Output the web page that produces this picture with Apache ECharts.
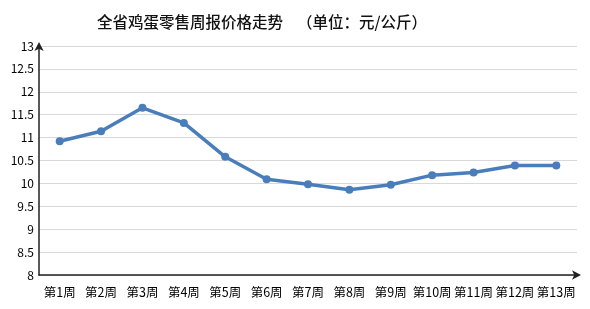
<!DOCTYPE html>
<html><head><meta charset="utf-8">
<script src="https://cdn.jsdelivr.net/npm/echarts@6/dist/echarts.min.js"></script>
<style>html,body{margin:0;padding:0;background:#fff}#c{width:590px;height:309px}</style>
</head><body><div id="c"></div>
<script>
var categories = ['第1周','第2周','第3周','第4周','第5周','第6周','第7周','第8周','第9周','第10周','第11周','第12周','第13周'];
var prices = [10.92, 11.14, 11.65, 11.32, 10.58, 10.09, 9.98, 9.86, 9.97, 10.18, 10.24, 10.39, 10.39];
var yTicks = [8, 8.5, 9, 9.5, 10, 10.5, 11, 11.5, 12, 12.5, 13];
var titleText = '全省鸡蛋零售周报价格走势    （单位：元/公斤）';

var chart = echarts.init(document.getElementById('c'), null, {renderer:'canvas'});
var font = '"Noto Sans CJK SC", sans-serif';
chart.setOption({
  animation: false,
  title: {text: titleText, left: 92, top: 9,
    textStyle: {fontFamily: font, fontSize: 15.5, fontWeight: 500, color: '#111'}},
  grid: {left: 39, right: 13, top: 46, bottom: 34, containLabel: false},
  xAxis: {type: 'category', data: categories, boundaryGap: true,
    axisLine: {lineStyle: {color: '#222', width: 1.5}, symbol: ['none','arrow'], symbolSize: [7, 9], symbolOffset: [0, 4]},
    axisTick: {show: false},
    axisLabel: {interval: 0, fontFamily: font, fontSize: 12.5, color: '#000', margin: 11}},
  yAxis: {type: 'value', min: yTicks[0], max: yTicks[yTicks.length-1], interval: 0.5,
    axisLine: {show: true, lineStyle: {color: '#222', width: 1.5}, symbol: ['none','arrow'], symbolSize: [7, 9], symbolOffset: [0, 4]},
    axisTick: {show: false},
    splitLine: {lineStyle: {color: '#d9d9d9', width: 1}},
    axisLabel: {fontFamily: font, fontSize: 12, color: '#000', margin: 5}},
  series: [{type: 'line', data: prices, symbol: 'circle', symbolSize: 8,
    lineStyle: {color: '#4a7ebb', width: 3.5}, itemStyle: {color: '#4a7ebb'}}]
});
</script></body></html>
